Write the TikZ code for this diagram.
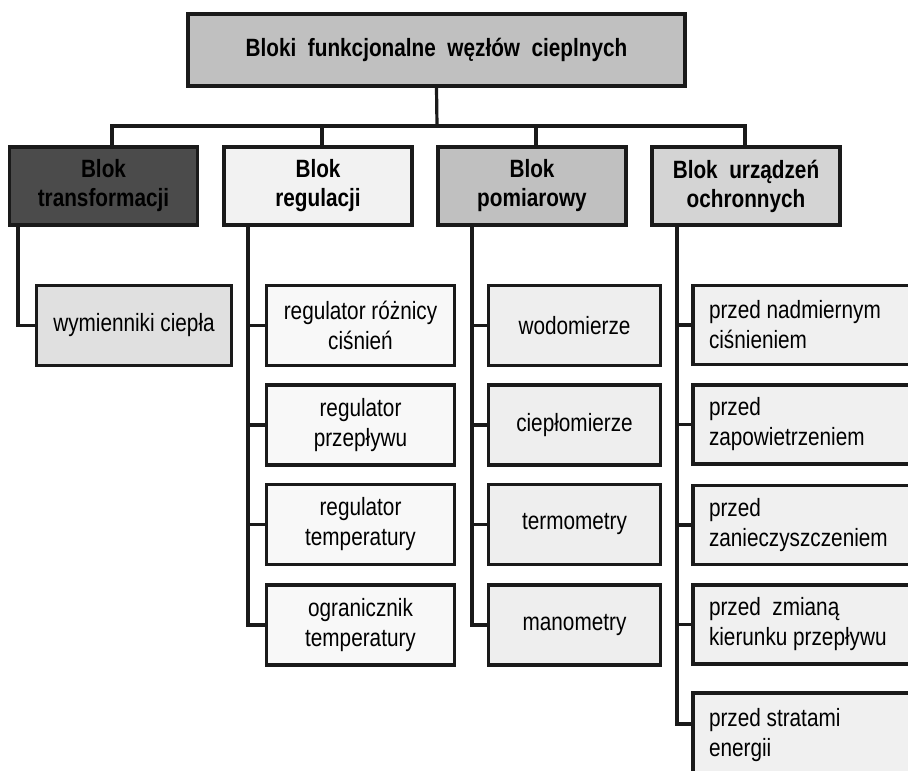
\documentclass[tikz,border=0pt]{standalone}
\usepackage{fontspec}
\setmainfont[FakeStretch=0.83]{Liberation Sans}
\definecolor{cTop}{HTML}{C0C0C0}
\definecolor{cTrans}{HTML}{4B4B4B}
\definecolor{cReg}{HTML}{F2F2F2}
\definecolor{cPom}{HTML}{C0C0C0}
\definecolor{cOch}{HTML}{D4D4D4}
\definecolor{cWym}{HTML}{E0E0E0}
\definecolor{cRegC}{HTML}{F8F8F8}
\definecolor{cPomC}{HTML}{EEEEEE}
\definecolor{cOchC}{HTML}{F0F0F0}
\definecolor{cLine}{HTML}{1A1A1A}
\begin{document}
\begin{tikzpicture}[x=1pt,y=-1pt,
  box/.style={draw=cLine, line width=3.2pt, rectangle, inner sep=0pt, align=center,
    font=\fontsize{25}{30}\selectfont, text=black},
  head/.style={box, font=\bfseries\fontsize{25}{29}\selectfont},
  lvl/.style={head, minimum width=188pt, minimum height=78pt},
  rchild/.style={box, fill=cRegC, minimum width=188pt, minimum height=80pt},
  pchild/.style={box, fill=cPomC, minimum width=172pt, minimum height=80pt},
  ochild/.style={box, fill=cOchC, align=flush left, text width=228pt, inner xsep=16pt, minimum height=79pt},
  conn/.style={draw=cLine, line width=3.2pt},
]
\useasboundingbox (0,0) rectangle (908,771);
\clip (0,0) rectangle (908,771);
\fill[white] (0,0) rectangle (908,771);

% top
\node[head, fill=cTop, minimum width=497pt, minimum height=72pt] (top) at (436.5,50)
  {Bloki~~funkcjonalne~~węzłów~~cieplnych};

% level 1
\node[lvl, fill=cTrans] (trans) at (103.5,186) {Blok\\transformacji};
\node[lvl, fill=cReg]   (reg)   at (318,186)   {Blok\\regulacji};
\node[lvl, fill=cPom]   (pom)   at (532,186)   {Blok\\pomiarowy};
\node[lvl, fill=cOch]   (och)   at (746,186)   {Blok~~urządzeń\\ochronnych};

% level 2
\node[box, fill=cWym, minimum width=195pt, minimum height=80pt] (wym) at (134,325.5) {wymienniki ciepła};

\node[rchild] (r1) at (360.5,325.5) {regulator różnicy\\ciśnień};
\node[rchild] (r2) at (360.5,425)   {regulator\\przepływu};
\node[rchild] (r3) at (360.5,524.5) {regulator\\temperatury};
\node[rchild] (r4) at (360.5,625)   {ogranicznik\\temperatury};

\node[pchild] (p1) at (574.5,325.5) {wodomierze};
\node[pchild] (p2) at (574.5,425)   {ciepłomierze};
\node[pchild] (p3) at (574.5,524.5) {termometry};
\node[pchild] (p4) at (574.5,625)   {manometry};

\node[ochild] (o1) at (823,325)   {przed nadmiernym\\ciśnieniem};
\node[ochild] (o2) at (823,424.5) {przed\\zapowietrzeniem};
\node[ochild] (o3) at (823,525)   {przed\\zanieczyszczeniem};
\node[ochild] (o4) at (823,624.5) {przed~~zmianą\\kierunku przepływu};
\node[ochild, minimum height=84pt] (o5) at (823,735) {przed stratami\\energii};

% connectors level 0 -> 1
\coordinate (hub) at (437,126);
\draw[conn] (top.south) -- (hub);
\draw[conn] ([xshift=8.5pt]trans.north) |- (hub);
\draw[conn] ([xshift=4pt]reg.north) |- (hub);
\draw[conn] ([xshift=4pt]pom.north) |- (hub);
\draw[conn] ([xshift=-1pt]och.north) |- (hub);

% transformacji
\draw[conn] ([xshift=-85.5pt]trans.south) |- (wym.west);

% regulacji
\coordinate (rv) at ([xshift=-70pt]reg.south);
\draw[conn] (rv) |- (r4.west);
\foreach \i in {1,2,3} \draw[conn] (r\i.west) -- (r\i.west -| rv);

% pomiarowy
\coordinate (pv) at ([xshift=-60pt]pom.south);
\draw[conn] (pv) |- (p4.west);
\foreach \i in {1,2,3} \draw[conn] (p\i.west) -- (p\i.west -| pv);

% ochronnych
\coordinate (ov) at ([xshift=-69pt]och.south);
\draw[conn] (ov) |- ([yshift=11pt]o5.west);
\foreach \i in {1,2,3,4} \draw[conn] (o\i.west) -- (o\i.west -| ov);
\end{tikzpicture}
\end{document}
